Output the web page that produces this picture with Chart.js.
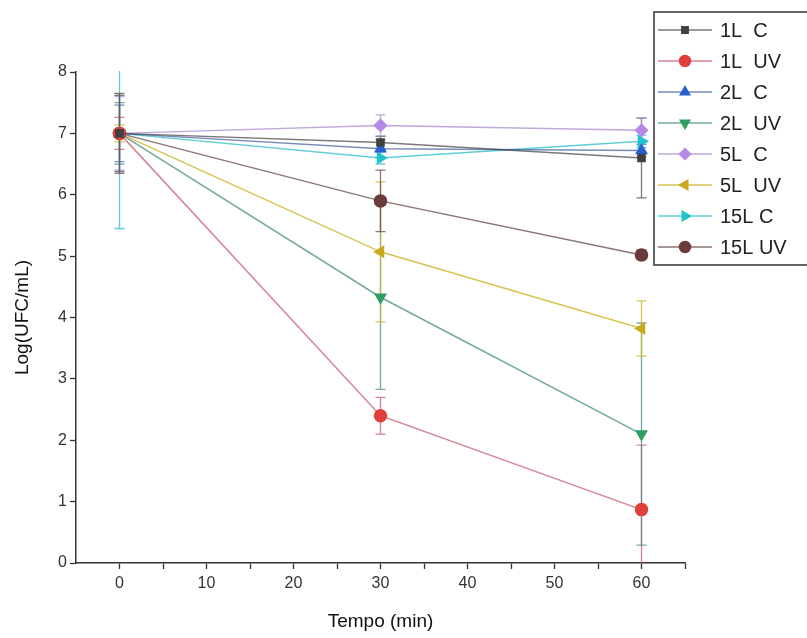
<!DOCTYPE html>
<html>
<head>
<meta charset="utf-8">
<script src="https://cdn.jsdelivr.net/npm/chart.js@4"></script>
<style>
  html, body { margin: 0; padding: 0; background: #fff; }
  #wrap { width: 807px; height: 638px; position: relative; }
</style>
</head>
<body>
<div id="wrap"><canvas id="chart"></canvas></div>
<script>
// ---- data ----
const times = [0, 30, 60];
const seriesNames = ["1L  C", "1L  UV", "2L  C", "2L  UV", "5L  C", "5L  UV", "15L C", "15L UV"];

const l1C   = [7.0, 6.85, 6.60];
const l1UV  = [7.0, 2.40, 0.87];
const l2C   = [7.0, 6.75, 6.72];
const l2UV  = [7.0, 4.33, 2.10];
const l5C   = [7.0, 7.13, 7.05];
const l5UV  = [7.0, 5.07, 3.82];
const l15C  = [7.0, 6.60, 6.87];
const l15UV = [7.0, 5.90, 5.02];

// symmetric error (± SD)
const l1CErr   = [0.62, 0.10, 0.65];
const l1UVErr  = [0.26, 0.30, 1.05];
const l2CErr   = [0.46, 0.15, 0.10];
const l2UVErr  = [0.50, 1.50, 1.81];
const l5CErr   = [0.60, 0.17, 0.20];
const l5UVErr  = [0.14, 1.14, 0.45];
const l15CErr  = [1.55, 0.10, 0.10];
const l15UVErr = [0.65, 0.50, 0.08];

const xTicks = [0, 5, 10, 15, 20, 25, 30, 35, 40, 45, 50, 55, 60, 65];

const styles = [
  { color: "#404040", line: "rgba(64,64,64,0.7)",    point: "rect",     rot: 0 },
  { color: "#e0403c", line: "rgba(200,90,110,0.75)", point: "circle",   rot: 0 },
  { color: "#2a5fd0", line: "rgba(60,90,160,0.7)",   point: "triangle", rot: 0 },
  { color: "#2e9e62", line: "rgba(70,140,130,0.75)", point: "triangle", rot: 180 },
  { color: "#b48ae6", line: "rgba(170,140,210,0.75)", point: "rectRot", rot: 0 },
  { color: "#c9a81e", line: "rgba(205,180,40,0.8)",  point: "triangle", rot: -90 },
  { color: "#22c2cc", line: "rgba(40,190,200,0.75)", point: "triangle", rot: 90 },
  { color: "#6b3b3b", line: "rgba(100,70,70,0.75)",  point: "circle",   rot: 0 }
];

const values = [l1C, l1UV, l2C, l2UV, l5C, l5UV, l15C, l15UV];
const errors = [l1CErr, l1UVErr, l2CErr, l2UVErr, l5CErr, l5UVErr, l15CErr, l15UVErr];

const datasets = values.map((vals, i) => ({
  label: seriesNames[i],
  data: times.map((t, j) => ({ x: t, y: vals[j] })),
  err: errors[i],
  borderColor: styles[i].line,
  backgroundColor: styles[i].color,
  pointBorderColor: styles[i].color,
  pointBackgroundColor: styles[i].color,
  pointStyle: styles[i].point,
  rotation: styles[i].rot,
  pointRadius: styles[i].point === "rect" ? 5 : 6,
  borderWidth: 1.5,
  tension: 0,
  fill: false
}));

// error bars, drawn under the markers
const errorBars = {
  id: "errorBars",
  beforeDatasetsDraw(chart) {
    const { ctx, chartArea, scales } = chart;
    ctx.save();
    ctx.beginPath();
    ctx.rect(chartArea.left, chartArea.top - 1, chartArea.right - chartArea.left, chartArea.bottom - chartArea.top + 1);
    ctx.clip();
    chart.data.datasets.forEach((ds) => {
      ctx.strokeStyle = ds.borderColor;
      ctx.lineWidth = 1.3;
      ds.data.forEach((p, j) => {
        const e = ds.err[j];
        const x = scales.x.getPixelForValue(p.x);
        const yt = scales.y.getPixelForValue(p.y + e);
        const yb = scales.y.getPixelForValue(p.y - e);
        ctx.beginPath();
        ctx.moveTo(x, yt); ctx.lineTo(x, yb);
        ctx.moveTo(x - 5, yt); ctx.lineTo(x + 5, yt);
        ctx.moveTo(x - 5, yb); ctx.lineTo(x + 5, yb);
        ctx.stroke();
      });
    });
    ctx.restore();
  }
};

// boxed legend in the top right corner
const boxLegend = {
  id: "boxLegend",
  afterDraw(chart) {
    const ctx = chart.ctx;
    const left = 654, top = 12, bottom = 265;
    ctx.save();
    ctx.fillStyle = "#fff";
    ctx.fillRect(left, top, 200, bottom - top);
    ctx.strokeStyle = "#333";
    ctx.lineWidth = 1.5;
    ctx.strokeRect(left, top, 200, bottom - top);
    chart.data.datasets.forEach((ds, i) => {
      const y = 30 + i * 31;
      ctx.strokeStyle = ds.borderColor;
      ctx.lineWidth = 1.5;
      ctx.beginPath();
      ctx.moveTo(658, y); ctx.lineTo(712, y);
      ctx.stroke();
      ctx.fillStyle = ds.pointBackgroundColor;
      ctx.strokeStyle = ds.pointBorderColor;
      Chart.helpers.drawPoint(ctx, { pointStyle: ds.pointStyle, rotation: ds.rotation, radius: ds.pointRadius - 0.5, borderWidth: 1 }, 685, y);
      ctx.fillStyle = "#222";
      ctx.font = '20px "Liberation Sans", Arial, sans-serif';
      ctx.textBaseline = "middle";
      ctx.fillText(ds.label, 720, y + 1);
    });
    ctx.restore();
  }
};

const tickFont = { family: '"Liberation Sans", Arial, sans-serif', size: 16 };
const titleFont = { family: '"Liberation Sans", Arial, sans-serif', size: 19 };

new Chart(document.getElementById("chart"), {
  type: "line",
  data: { datasets },
  plugins: [errorBars, boxLegend],
  options: {
    responsive: true,
    maintainAspectRatio: false,
    animation: false,
    layout: { padding: { left: 0, right: 122, top: 72, bottom: 0 } },
    plugins: { legend: { display: false }, tooltip: { enabled: false } },
    scales: {
      x: {
        type: "linear",
        min: -5,
        max: 65,
        afterBuildTicks: (s) => { s.ticks = xTicks.map((v) => ({ value: v })); },
        afterFit: (s) => { s.height = 75; },
        border: { color: "#333", width: 1.5 },
        grid: { drawOnChartArea: false, tickLength: 6, tickColor: "#333", tickWidth: 1.3 },
        ticks: {
          color: "#333",
          font: tickFont,
          padding: 5,
          autoSkip: false,
          maxRotation: 0,
          callback: (v) => (v % 10 === 0 ? v : "")
        },
        title: { display: true, text: "Tempo (min)", color: "#111", font: titleFont, padding: { top: 0, bottom: 5 } }
      },
      y: {
        min: 0,
        max: 8,
        afterFit: (s) => { s.width = 76; },
        border: { color: "#333", width: 1.5 },
        grid: { drawOnChartArea: false, tickLength: 6, tickColor: "#333", tickWidth: 1.3 },
        ticks: { stepSize: 1, color: "#333", font: tickFont, padding: 3 },
        title: { display: true, text: "Log(UFC/mL)", color: "#111", font: titleFont, padding: { top: 11, bottom: 0 } }
      }
    }
  }
});
</script>
</body>
</html>
